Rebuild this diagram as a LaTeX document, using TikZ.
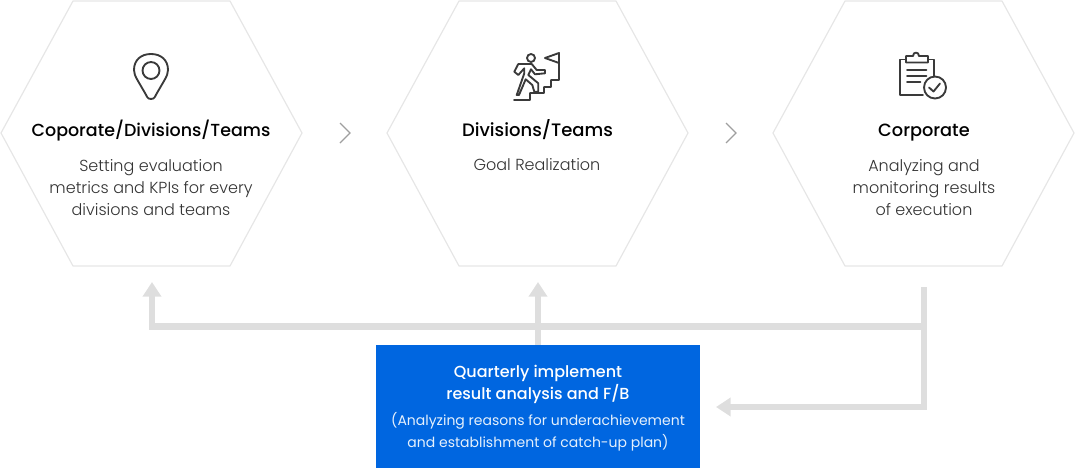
\documentclass[tikz,border=0pt]{standalone}
\usepackage{fontspec}
\setmainfont{Poppins}
\newfontfamily\headfont{Poppins Medium}
\newfontfamily\bodyfont{Poppins Light}
\usetikzlibrary{arrows.meta,positioning}
\definecolor{hexline}{HTML}{E6E6E6}
\definecolor{flowgray}{HTML}{DEDEDE}
\definecolor{boxblue}{HTML}{0066E0}
\definecolor{icongray}{HTML}{3A3A3A}
\definecolor{bodygray}{HTML}{333333}
\tikzset{
	hexshape/.style={draw=hexline, line width=0.9pt, line join=round},
	headtext/.style={anchor=base, align=center, inner sep=0pt, font=\headfont\fontsize{13.1}{16}\selectfont, text=black},
	bodytext/.style={align=center, inner sep=0pt, font=\bodyfont\fontsize{12}{16.5}\selectfont\color{bodygray}},
	flowline/.style={draw=flowgray, line width=5.2pt, line join=miter},
	flowarrow/.style={flowline, -{Triangle[width=13.5pt,length=11pt]}},
	iconline/.style={draw=icongray, line width=1.4pt, line join=round, line cap=round},
	nextmark/.style={draw=gray!75, line width=0.9pt},
}
\begin{document}
\begin{tikzpicture}[x=0.75pt, y=-0.75pt]
	\useasboundingbox (0,0) rectangle (1076,468);
	% hexagons
	\foreach \dx in {0,386,772} {
		\draw[hexshape, shift={(\dx*0.75pt,0)}] (1,133) -- (73,1) -- (230,1) -- (302,133) -- (230,266) -- (73,266) -- cycle;
	}
	% texts
	\node[headtext] (headA) at (151,136) {Coporate/Divisions/Teams};
	\node[bodytext] (bodyA) at (151,187.5) {Setting evaluation\\metrics and KPIs for every\\divisions and teams};
	\node[headtext, font=\headfont\fontsize{13.5}{16}\selectfont] (headB) at (537.5,136) {Divisions/Teams};
	\node[bodytext] (bodyB) at (537,164.5) {Goal Realization};
	\node[headtext, font=\headfont\fontsize{13.3}{16}\selectfont] (headC) at (924,136) {Corporate};
	\node[bodytext] (bodyC) at (924,187.5) {Analyzing and\\monitoring results\\of execution};
	% chevrons
	\draw[nextmark] (340,123) -- (350,133) -- (340,143);
	\draw[nextmark] (726,123) -- (736,133) -- (726,143);
	% pin icon
	\draw[iconline] (151,99) .. controls (147,99) and (147,96) .. (145,93) -- (138,81) .. controls (135,76) and (134,73) .. (134,70) .. controls (134,60) and (141,54) .. (151,54) .. controls (161,54) and (168,60) .. (168,70) .. controls (168,73) and (167,76) .. (164,81) -- (157,93) .. controls (155,96) and (155,99) .. (151,99) -- cycle;
	\draw[iconline] (151,70.5) circle (8.5);
	% runner icon
	\draw[iconline] (531,58) circle (4);
	\draw[iconline] (514,100) -- (530,100) -- (530,93) -- (544,93) -- (544,87) -- (551,87) -- (551,80) -- (559,80) -- (559,53) -- (545,58) -- (559,63);
	\draw[iconline] (514.3,71.7) -- (518.3,64) -- (531.7,64) -- (536.7,70) -- (545,70) -- (545,73.3) -- (535,74.3) -- (531,69.3) -- (528.3,75) -- (538.3,83.3) -- (538.3,91.7) -- (534.3,91.7) -- (532.3,85) -- (525.7,79.3) -- (519,95) -- (516.7,95) -- (524.3,73.3) -- (524.3,68.3) -- (518.3,75) -- cycle;
	% clipboard icon
	\draw[iconline] (923,95) -- (900,95) -- (900,59.5) -- (906,59.5);
	\draw[iconline] (928,59.5) -- (934,59.5) -- (934,76);
	\draw[iconline] (906,62.5) -- (906,56) -- (913,56) .. controls (913,51.5) and (919,51.5) .. (919,56) -- (928,56) -- (928,62.5) -- cycle;
	\draw[iconline] (907,70) -- (926.5,70);
	\draw[iconline] (907,76) -- (926.5,76);
	\draw[iconline] (907,82) -- (920.5,82);
	\draw[iconline] (935,87.5) circle (11);
	\draw[iconline] (929,87.5) -- (933.5,91.5) -- (940,83.5);
	% result box
	\node[fill=boxblue, minimum width=324*0.75pt, minimum height=123*0.75pt, inner sep=0pt] (resultbox) at (538,406.5) {};
	\node[align=center, inner sep=0pt, text=white, font=\headfont\fontsize{12}{16.5}\selectfont] (resulthead) at (538,384) {Quarterly implement\\result analysis and F/B};
	\node[align=center, inner sep=0pt, text=white!90!boxblue, font=\fontsize{10.5}{16.5}\selectfont] (resultnote) at (538,432) {(Analyzing reasons for underachievement\\and establishment of catch-up plan)};
	% flow lines
	\coordinate (splitR) at (924,326.5);
	\coordinate (cornerL) at (152,326.5);
	\coordinate (startR) at (924,287);
	\coordinate (cornerR) at (924,407);
	\coordinate (tipA) at (152,282);
	\coordinate (tipB) at (538,282);
	\coordinate (tipBox) at (716,407);
	\draw[flowarrow] (splitR) -- (cornerL) -- (tipA);
	\draw[flowarrow] (resultbox.north) -- (tipB);
	\draw[flowarrow] (startR) -- (cornerR) -- (tipBox);
\end{tikzpicture}
\end{document}
